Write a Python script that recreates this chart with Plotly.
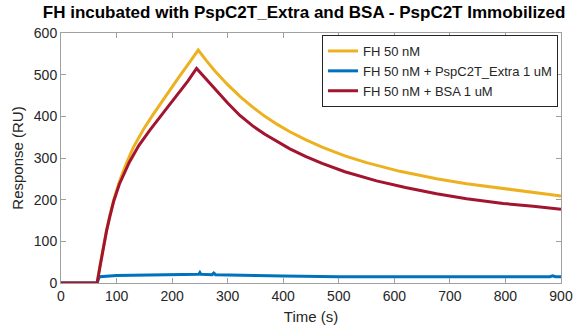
import plotly.graph_objects as go

# ---- data ----
t_yellow = [0, 30, 65, 70, 75, 82, 88, 95, 105, 117, 130, 148, 165, 187, 210, 230, 247,
            262, 277, 300, 322, 345, 367, 390, 412, 440, 470, 511, 550, 610,
            676, 730, 796, 850, 883, 900]
v_yellow = [0, 0, 0, 40, 78, 127, 163, 200, 243, 285, 325, 368, 403, 447, 490, 527, 559,
            533, 509, 476, 448, 422, 400, 380, 363, 344, 326, 305, 289, 268,
            250, 238, 226, 217, 212, 209]

t_blue = [0, 30, 65, 68, 70, 100, 150, 200, 245, 248, 250, 252, 272, 275, 278, 300, 350,
          400, 450, 500, 600, 700, 800, 880, 885, 890, 900]
v_blue = [0, 0, 0, 12, 15, 18, 19, 20, 21, 21, 25, 21, 20, 24, 20, 19, 18,
          17, 16, 15, 15, 15, 14, 15, 17, 15, 15]

t_red = [0, 30, 65, 70, 75, 82, 88, 95, 105, 123, 140, 160, 185, 208, 228, 244,
         250, 262, 277, 300, 322, 345, 367, 390, 412, 440, 470, 511, 568, 620,
         676, 730, 796, 850, 883, 900]
v_red = [0, 0, 0, 38, 76, 125, 160, 197, 237, 290, 330, 367, 410, 450, 484, 515,
         506, 487, 464, 432, 402, 377, 357, 339, 322, 304, 287, 267, 245, 229,
         214, 202, 191, 184, 180, 177]

names = ["FH 50 nM", "FH 50 nM + PspC2T_Extra 1 uM", "FH 50 nM + BSA 1 uM"]
colors = ["#EDB120", "#0072BD", "#A2142F"]

x_ticks = [0, 100, 200, 300, 400, 500, 600, 700, 800, 900]
y_ticks = [0, 100, 200, 300, 400, 500, 600]

fig = go.Figure()
for t, v, n, c in zip([t_yellow, t_blue, t_red], [v_yellow, v_blue, v_red], names, colors):
    fig.add_trace(go.Scatter(x=t, y=v, mode="lines", name=n,
                             line=dict(color=c, width=3)))

font_family = "Liberation Sans, Arial, sans-serif"
axis_common = dict(
    showline=True, linecolor="#a0a0a0", linewidth=1, mirror="ticks",
    ticks="inside", ticklen=5, tickcolor="#a0a0a0",
    showgrid=False, zeroline=False, automargin=False,
    tickfont=dict(size=14, color="#262626", family=font_family),
)

fig.update_layout(
    width=576, height=327,
    margin=dict(l=61, r=15, t=33, b=44),
    paper_bgcolor="white", plot_bgcolor="white",
    title=dict(text="<b>FH incubated with PspC2T_Extra and BSA - PspC2T Immobilized</b>",
               x=0.528, xanchor="center", y=0.963, yanchor="middle",
               font=dict(size=17, color="black", family=font_family)),
    xaxis=dict(range=[0, 900], tickvals=x_ticks,
               title=dict(text="Time (s)", standoff=8,
                          font=dict(size=15, color="#262626", family=font_family)),
               **axis_common),
    yaxis=dict(range=[0, 600], tickvals=y_ticks,
               title=dict(text="Response (RU)", standoff=6,
                          font=dict(size=15, color="#262626", family=font_family)),
               **axis_common),
    legend=dict(x=0.994, xanchor="right", y=0.992, yanchor="top",
                bgcolor="white", bordercolor="#262626", borderwidth=1,
                font=dict(size=13, color="#262626", family=font_family),
                itemwidth=30, tracegroupgap=0),
    showlegend=True,
)

fig.write_html("out.html", config={"displayModeBar": False},
               post_script="document.body.style.margin='0';")
